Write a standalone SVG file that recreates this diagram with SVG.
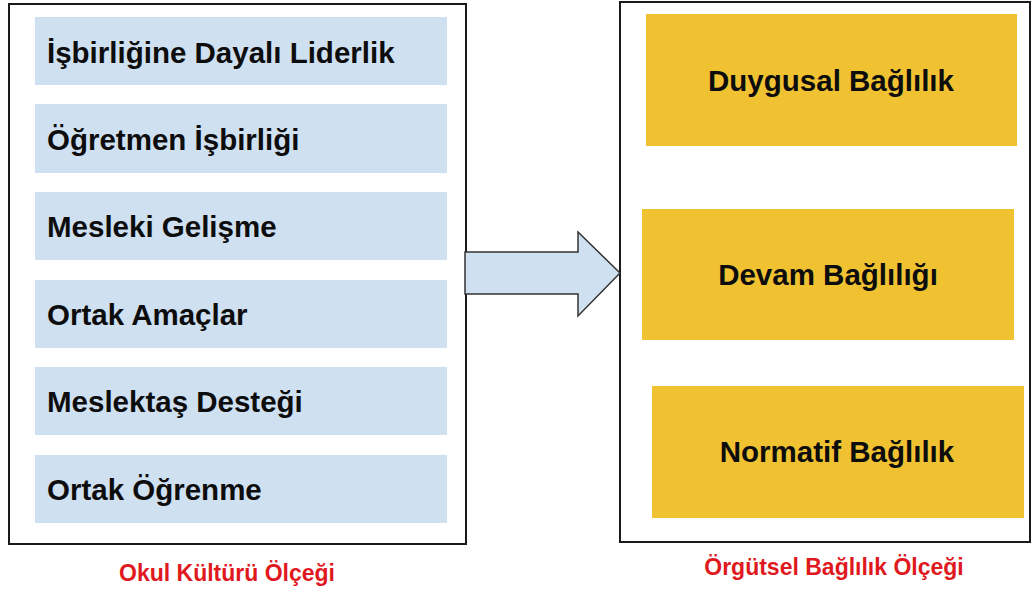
<svg xmlns="http://www.w3.org/2000/svg" width="1032" height="591" viewBox="0 0 1032 591">
<style>
.frame{fill:#fff;stroke:#1a1a1a;stroke-width:2}
.blue{fill:#cfe0f1}
.yel{fill:#f0c232}
.t{font-family:"Liberation Sans",Arial,sans-serif;font-weight:bold;font-size:29.5px;fill:#0d0d0d}
.cap{font-family:"Liberation Sans",Arial,sans-serif;font-weight:bold;font-size:23px;fill:#e0191e;text-anchor:middle}
</style>
<rect width="1032" height="591" fill="#fff"/>
<g id="okul">
<rect class="frame" x="9" y="4" width="457" height="540"/>
<text class="cap" x="227" y="581">Okul Kültürü Ölçeği</text>
</g>
<g id="n1"><rect class="blue" x="35" y="17" width="412" height="68"/><text class="t" x="47" y="63">İşbirliğine Dayalı Liderlik</text></g>
<g id="n2"><rect class="blue" x="35" y="104" width="412" height="69"/><text class="t" x="47" y="150">Öğretmen İşbirliği</text></g>
<g id="n3"><rect class="blue" x="35" y="192" width="412" height="68"/><text class="t" x="47" y="237">Mesleki Gelişme</text></g>
<g id="n4"><rect class="blue" x="35" y="280" width="412" height="68"/><text class="t" x="47" y="325">Ortak Amaçlar</text></g>
<g id="n5"><rect class="blue" x="35" y="367" width="412" height="68"/><text class="t" x="47" y="412">Meslektaş Desteği</text></g>
<g id="n6"><rect class="blue" x="35" y="455" width="412" height="68"/><text class="t" x="47" y="500">Ortak Öğrenme</text></g>
<g id="orgutsel">
<rect class="frame" x="620" y="2" width="410" height="540"/>
<text class="cap" x="834" y="575">Örgütsel Bağlılık Ölçeği</text>
</g>
<g id="m1"><rect class="yel" x="646" y="14" width="371" height="132"/><text class="t" x="831" y="91" text-anchor="middle">Duygusal Bağlılık</text></g>
<g id="m2"><rect class="yel" x="642" y="209" width="372" height="131"/><text class="t" x="828" y="285" text-anchor="middle">Devam Bağlılığı</text></g>
<g id="m3"><rect class="yel" x="652" y="386" width="372" height="132"/><text class="t" x="837" y="462" text-anchor="middle">Normatif Bağlılık</text></g>
<g id="connectors">
<path d="M465 252 H578 V232 L620 273 L578 316 V294 H465 Z" fill="#cfe0f1" stroke="#333" stroke-width="1.5" stroke-linejoin="miter"/>
</g>
</svg>
